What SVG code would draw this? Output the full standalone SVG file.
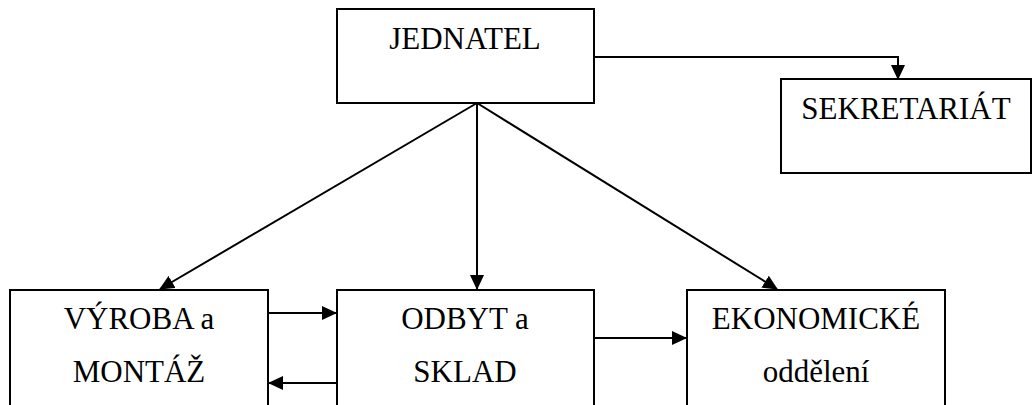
<svg xmlns="http://www.w3.org/2000/svg" width="1032" height="405" viewBox="0 0 1032 405">
<style>
.box{fill:#fff;stroke:#000;stroke-width:2}
.lbl{font-family:"Liberation Serif","Times New Roman",serif;font-size:31px;fill:#000;text-anchor:middle}
.con{fill:none;stroke:#000;stroke-width:2}
</style>
<defs>
<marker id="ah" markerUnits="userSpaceOnUse" markerWidth="15" markerHeight="14" refX="14" refY="7" orient="auto">
<path d="M0,0 L15,7 L0,14 Z" fill="#000"/>
</marker>
</defs>
<rect width="1032" height="405" fill="#fff"/>
<g id="n-jednatel">
<rect class="box" x="337" y="9" width="257" height="94"/>
<text class="lbl" x="465" y="49">JEDNATEL</text>
</g>
<g id="n-sekretariat">
<rect class="box" x="781" y="79" width="250" height="94"/>
<text class="lbl" x="906" y="119">SEKRETARIÁT</text>
</g>
<g id="n-vyroba">
<rect class="box" x="10" y="290" width="258" height="130"/>
<text class="lbl" x="139" y="329">VÝROBA a</text>
<text class="lbl" x="139" y="382">MONTÁŽ</text>
</g>
<g id="n-odbyt">
<rect class="box" x="337" y="290" width="257" height="130"/>
<text class="lbl" x="465" y="329">ODBYT a</text>
<text class="lbl" x="465" y="382">SKLAD</text>
</g>
<g id="n-ekonomicke">
<rect class="box" x="687" y="290" width="258" height="130"/>
<text class="lbl" x="816" y="329">EKONOMICKÉ</text>
<text class="lbl" x="816" y="382">oddělení</text>
</g>
<g id="connectors">
<polyline class="con" points="594,57 898,57 898,79" marker-end="url(#ah)"/>
<line class="con" x1="477" y1="103" x2="160" y2="289" marker-end="url(#ah)"/>
<line class="con" x1="477" y1="103" x2="477" y2="289" marker-end="url(#ah)"/>
<line class="con" x1="477" y1="103" x2="777" y2="289" marker-end="url(#ah)"/>
<line class="con" x1="268" y1="313" x2="336" y2="313" marker-end="url(#ah)"/>
<line class="con" x1="336" y1="383" x2="269" y2="383" marker-end="url(#ah)"/>
<line class="con" x1="594" y1="338" x2="686" y2="338" marker-end="url(#ah)"/>
</g>
</svg>
